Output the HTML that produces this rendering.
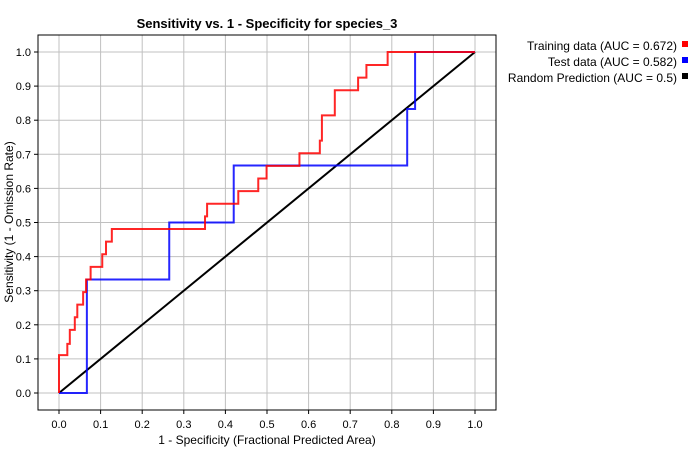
<!DOCTYPE html>
<html><head><meta charset="utf-8"><style>
body{margin:0;background:#fff;}
svg{display:block;font-family:"Liberation Sans",sans-serif;}
</style></head><body>
<svg id="chart" width="700" height="450">
<rect width="700" height="450" fill="#fff"/>
<text x="267" y="28" text-anchor="middle" font-size="13" font-weight="bold">Sensitivity vs. 1 - Specificity for species_3</text>
<g id="grid"></g>
<rect x="38" y="35" width="458" height="375" fill="none" stroke="#000" stroke-width="1"/>
<g id="ticks"></g>
<g id="series"></g>
<text x="267" y="444" text-anchor="middle" font-size="12">1 - Specificity  (Fractional Predicted Area)</text>
<text transform="translate(13,222) rotate(-90)" text-anchor="middle" font-size="12">Sensitivity  (1 - Omission Rate)</text>
<g>
<text x="677" y="50" text-anchor="end" font-size="12">Training data (AUC = 0.672)</text>
<rect x="682" y="41" width="6" height="6" fill="#f00"/>
<text x="677" y="66" text-anchor="end" font-size="12">Test data (AUC = 0.582)</text>
<rect x="682" y="57" width="6" height="6" fill="#00f"/>
<text x="677" y="82" text-anchor="end" font-size="12">Random Prediction (AUC = 0.5)</text>
<rect x="682" y="73" width="6" height="6" fill="#000"/>
</g>
</svg>
<script>
const tickValues=[0,0.1,0.2,0.3,0.4,0.5,0.6,0.7,0.8,0.9,1.0];
const tickLabels=["0.0","0.1","0.2","0.3","0.4","0.5","0.6","0.7","0.8","0.9","1.0"];
const trainX=[0,0,0,0.02,0.02,0.026,0.026,0.038,0.038,0.044,0.044,0.058,0.058,0.065,0.065,0.076,0.076,0.104,0.104,0.113,0.113,0.127,0.127,0.351,0.351,0.356,0.356,0.431,0.431,0.479,0.479,0.499,0.499,0.578,0.578,0.627,0.627,0.632,0.632,0.663,0.663,0.719,0.719,0.739,0.739,0.79,0.79,1.0];
const trainY=[0,0.033,0.111,0.111,0.144,0.144,0.185,0.185,0.222,0.222,0.259,0.259,0.296,0.296,0.333,0.333,0.37,0.37,0.407,0.407,0.444,0.444,0.481,0.481,0.518,0.518,0.555,0.555,0.592,0.592,0.629,0.629,0.666,0.666,0.703,0.703,0.74,0.74,0.814,0.814,0.888,0.888,0.925,0.925,0.962,0.962,1.0,1.0];
const testX=[0,0.067,0.067,0.265,0.265,0.42,0.42,0.837,0.837,0.856,0.856,1.0];
const testY=[0,0,0.333,0.333,0.5,0.5,0.667,0.667,0.833,0.833,1.0,1.0];
const randX=[0,1];
const randY=[0,1];
const NS="http://www.w3.org/2000/svg";
const sx=v=>59+v*416;
const sy=v=>393-v*341;
const grid=document.getElementById('grid'),ticks=document.getElementById('ticks'),series=document.getElementById('series');
function mk(tag,attrs,parent){const e=document.createElementNS(NS,tag);for(const k in attrs)e.setAttribute(k,attrs[k]);parent.appendChild(e);return e;}
tickValues.forEach((v,i)=>{
  const gx=mk('line',{x1:sx(v),x2:sx(v),y1:35,y2:410,stroke:'#c0c0c0'},grid);
  
  
  const gy=mk('line',{x1:38,x2:496,y1:sy(v),y2:sy(v),stroke:'#c0c0c0'},grid);
  
  
  mk('line',{x1:sx(v),x2:sx(v),y1:410,y2:414,stroke:'#000'},ticks);
  mk('line',{x1:34,x2:38,y1:sy(v),y2:sy(v),stroke:'#000'},ticks);
  const tx=mk('text',{x:sx(v),y:428,'text-anchor':'middle','font-size':11},ticks);
  tx.textContent=tickLabels[i];
  
  
  const ty=mk('text',{x:31,y:sy(v)+4,'text-anchor':'end','font-size':11},ticks);
  ty.textContent=tickLabels[i];
  
  
});
function line(xs,ys,color,name,op){
  const p=mk('polyline',{points:xs.map((x,i)=>sx(x)+','+sy(ys[i])).join(' '),fill:'none',stroke:color,'stroke-width':2,'stroke-opacity':op},series);
  
  
}
line(randX,randY,'#000','random-line',1);
line(testX,testY,'#0000ff','test-line',0.85);
line(trainX,trainY,'#ff0000','training-line',0.85);
</script>
</body></html>
